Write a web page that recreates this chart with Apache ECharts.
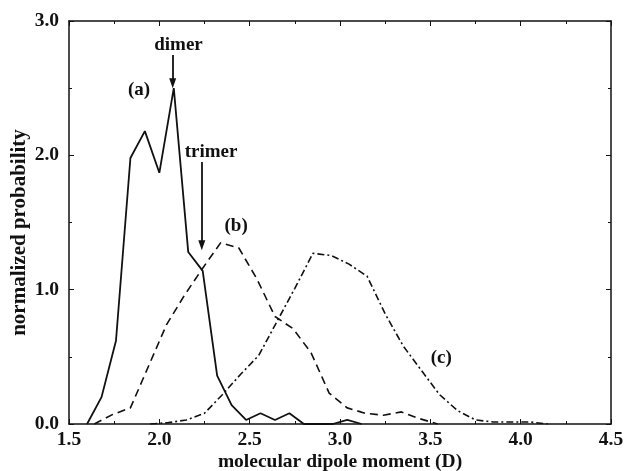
<!DOCTYPE html>
<html>
<head>
<meta charset="utf-8">
<script src="https://cdn.jsdelivr.net/npm/echarts@6/dist/echarts.min.js"></script>
<style>
html,body{margin:0;padding:0;background:#fff;}
#chart{width:624px;height:471px;}
</style>
</head>
<body>
<div id="chart"></div>
<script>
// ---- data ----
var aX = [1.60,1.68,1.76,1.84,1.92,2.00,2.08,2.16,2.24,2.32,2.40,2.48,2.56,2.64,2.72,2.80,2.88,2.96,3.04,3.12];
var aY = [0,0.20,0.62,1.98,2.18,1.87,2.50,1.28,1.14,0.36,0.14,0.03,0.08,0.03,0.08,0,0,0,0.03,0];

var bX = [1.64,1.74,1.84,1.94,2.04,2.14,2.24,2.34,2.44,2.54,2.64,2.74,2.84,2.94,3.04,3.14,3.24,3.34,3.44,3.54];
var bY = [0,0.07,0.12,0.43,0.74,0.96,1.16,1.35,1.31,1.08,0.80,0.71,0.53,0.23,0.12,0.08,0.065,0.09,0.04,0];

var cX = [1.95,2.05,2.15,2.25,2.35,2.45,2.55,2.65,2.75,2.85,2.95,3.05,3.15,3.25,3.35,3.45,3.55,3.65,3.75,3.85,3.95,4.05,4.15];
var cY = [0,0.01,0.03,0.08,0.22,0.37,0.51,0.76,1.01,1.27,1.255,1.19,1.10,0.82,0.58,0.40,0.22,0.10,0.03,0.015,0.015,0.015,0];

var xTicks = [1.5,2.0,2.5,3.0,3.5,4.0,4.5];
var yTicks = [0.0,1.0,2.0,3.0];

var annText = ['dimer','(a)','trimer','(b)','(c)'];
var annX = [2.106,1.888,2.286,2.425,3.56];
var annY = [2.82,2.485,2.024,1.473,0.49];

var arrowX = [2.074,2.235];
var arrowFrom = [2.746,1.95];
var arrowTo = [2.537,1.33];

function zip(xs, ys){ return xs.map(function(x,i){ return [x, ys[i]]; }); }

var FONT = 'Liberation Serif';
var INK = '#111';

var chart = echarts.init(document.getElementById('chart'), null, {renderer:'canvas'});

var baseAxis = {
  axisLine:{show:true, onZero:false, lineStyle:{color:INK, width:1.5}},
  axisTick:{show:true, inside:true, length:5, lineStyle:{color:INK, width:1}},
  minorTick:{show:true, splitNumber:2, length:3, lineStyle:{color:INK, width:1}},
  splitLine:{show:false},
  minorSplitLine:{show:false}
};

var option = {
  animation:false,
  backgroundColor:'#fff',
  grid:{left:69, right:13, top:21, bottom:47, show:false, containLabel:false, outerBoundsMode:'none'},
  xAxis:[
    Object.assign({}, baseAxis, {
      type:'value', min:xTicks[0], max:xTicks[xTicks.length-1], interval:0.5,
      position:'bottom',
      name:'molecular dipole moment (D)', nameLocation:'middle', nameGap:28, nameMoveOverlap:false,
      nameTextStyle:{fontFamily:FONT, fontWeight:'bold', fontSize:19.5, color:INK},
      axisLabel:{
        margin:6, fontFamily:FONT, fontWeight:'bold', fontSize:19.5, color:INK,
        formatter:function(v){ return v.toFixed(1); }
      }
    }),
    Object.assign({}, baseAxis, {
      type:'value', min:xTicks[0], max:xTicks[xTicks.length-1], interval:0.5,
      position:'top', axisLabel:{show:false}
    })
  ],
  yAxis:[
    Object.assign({}, baseAxis, {
      type:'value', min:yTicks[0], max:yTicks[yTicks.length-1], interval:1,
      position:'left',
      name:'normalized probability', nameLocation:'middle', nameGap:39, nameMoveOverlap:false,
      nameTextStyle:{fontFamily:FONT, fontWeight:'bold', fontSize:21, color:INK, padding:[0,20,0,0]},
      axisLabel:{
        margin:10, fontFamily:FONT, fontWeight:'bold', fontSize:19.5, color:INK,
        formatter:function(v){ return v.toFixed(1); }
      }
    }),
    Object.assign({}, baseAxis, {
      type:'value', min:yTicks[0], max:yTicks[yTicks.length-1], interval:1,
      position:'right', axisLabel:{show:false}
    })
  ],
  series:[
    {
      name:'(a)', type:'line', data:zip(aX,aY), showSymbol:false, symbol:'none',
      lineStyle:{color:INK, width:1.8, type:'solid'},
      markLine:{
        silent:true, symbol:['none','triangle'], symbolSize:[7,10], symbolRotate:180,
        label:{show:false},
        lineStyle:{color:INK, width:1.8, type:'solid'},
        itemStyle:{color:INK},
        data: arrowX.map(function(x,i){ return [{coord:[x, arrowFrom[i]]},{coord:[x, arrowTo[i]]}]; })
      }
    },
    {
      name:'(b)', type:'line', data:zip(bX,bY), showSymbol:false, symbol:'none',
      lineStyle:{color:INK, width:1.6, type:[8,5]}
    },
    {
      name:'(c)', type:'line', data:zip(cX,cY), showSymbol:false, symbol:'none',
      lineStyle:{color:INK, width:1.6, type:[7,3,2,3]}
    },
    {
      name:'labels', type:'scatter', symbolSize:0, silent:true, clip:false,
      itemStyle:{opacity:1, color:INK},
      data: annText.map(function(t,i){ return {name:t, value:[annX[i], annY[i]]}; }),
      label:{show:true, position:'inside', formatter:'{b}', opacity:1,
        fontFamily:FONT, fontWeight:'bold', fontSize:19, color:INK}
    }
  ]
};
chart.setOption(option);
</script>
</body>
</html>
